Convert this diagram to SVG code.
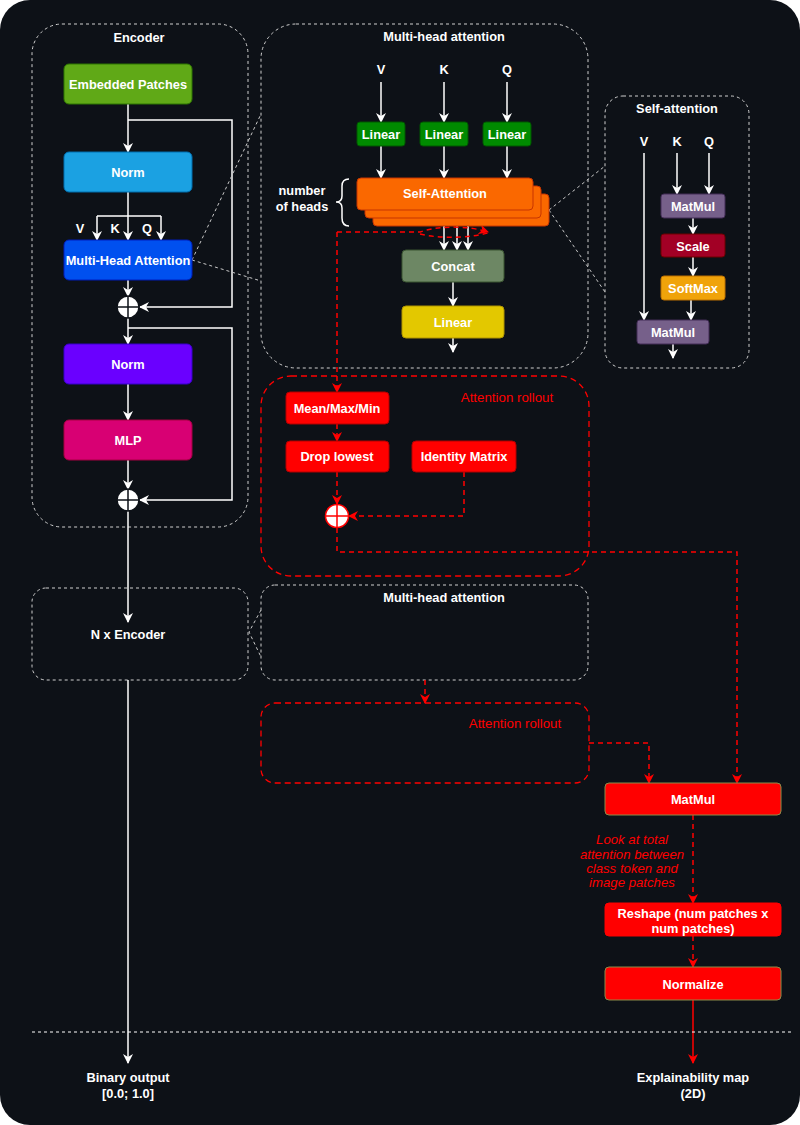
<svg xmlns="http://www.w3.org/2000/svg" width="800" height="1125" viewBox="0 0 800 1125">
<defs>
<marker id="aw" viewBox="0 0 10 10" refX="9" refY="5" markerWidth="10" markerHeight="10" markerUnits="userSpaceOnUse" orient="auto"><path d="M0,0 L10,5 L0,10 L3,5 z" fill="#ffffff"/></marker>
<marker id="ar" viewBox="0 0 10 10" refX="9" refY="5" markerWidth="10" markerHeight="10" markerUnits="userSpaceOnUse" orient="auto"><path d="M0,0 L10,5 L0,10 L3,5 z" fill="#ff0000"/></marker>
</defs>
<style>
text{font-family:"Liberation Sans",Arial,sans-serif;font-size:12.8px;font-weight:bold;fill:#ffffff;text-anchor:middle;dominant-baseline:central}
.rt{fill:#ff0000;font-weight:normal;font-size:13.3px}
.it{fill:#ff0000;font-weight:normal;font-style:italic;font-size:13.2px}
.cont{fill:none;stroke:#d0d0d0;stroke-width:1;stroke-dasharray:3 3}
.rcont{fill:none;stroke:#ff0000;stroke-width:1.3;stroke-dasharray:6 4}
.w{fill:none;stroke:#ffffff;stroke-width:1.5}
.wa{fill:none;stroke:#ffffff;stroke-width:1.5;marker-end:url(#aw)}
.ra{fill:none;stroke:#ff0000;stroke-width:1.5;stroke-dasharray:5 4;marker-end:url(#ar)}
.rs{fill:none;stroke:#ff0000;stroke-width:1.5;stroke-dasharray:5 4}
.gd{fill:none;stroke:#c8c8c8;stroke-width:1;stroke-dasharray:3 3}
.red{fill:#ff0000;stroke:#b20000}
</style>
<rect x="0" y="0" width="800" height="1125" fill="#ffffff"/>
<rect x="0" y="0" width="800" height="1125" rx="30" fill="#0d1117"/>

<g id="containers">
<rect class="cont" x="32" y="24" width="216" height="503" rx="30"/>
<text x="139" y="37">Encoder</text>
<rect class="cont" x="261" y="24" width="327" height="344" rx="35"/>
<text x="444" y="36">Multi-head attention</text>
<rect class="cont" x="605" y="96" width="144" height="272" rx="18"/>
<text x="677" y="108">Self-attention</text>
<rect class="rcont" x="261" y="376" width="328" height="200" rx="30"/>
<text class="rt" x="507" y="397">Attention rollout</text>
<rect class="cont" x="32" y="588" width="216" height="92" rx="14"/>
<text x="128" y="634">N x Encoder</text>
<rect class="cont" x="261" y="585" width="327" height="95" rx="14"/>
<text x="444" y="597">Multi-head attention</text>
<rect class="rcont" x="261" y="703" width="328" height="80" rx="14"/>
<text class="rt" x="515" y="723">Attention rollout</text>
</g>

<g id="connectors">
<path class="wa" d="M128 104 V152"/>
<path class="wa" d="M128 120 H232 V307 H140"/>
<path class="w" d="M128 192 V216 M97 216 H161"/>
<path class="wa" d="M97 216 V240"/>
<path class="wa" d="M128 216 V240"/>
<path class="wa" d="M161 216 V240"/>
<path class="wa" d="M128 280 V296"/>
<path class="wa" d="M128 318 V344"/>
<path class="wa" d="M128 328 H232 V500 H140"/>
<path class="wa" d="M128 384 V420"/>
<path class="wa" d="M128 460 V489"/>
<path class="wa" d="M128 511 V622"/>
<path class="wa" d="M128 680 V1063"/>
<path class="wa" d="M381 82 V122"/>
<path class="wa" d="M444 82 V122"/>
<path class="wa" d="M507 82 V122"/>
<path class="wa" d="M381 146 V178"/>
<path class="wa" d="M444 146 V178"/>
<path class="wa" d="M507 146 V178"/>
<path class="wa" d="M444 209 V250"/>
<path class="wa" d="M457 217 V250"/>
<path class="wa" d="M468 226 V250"/>
<path class="wa" d="M453 282 V306"/>
<path class="wa" d="M453 338 V352"/>
<path class="wa" d="M677 153 V194"/>
<path class="wa" d="M709 153 V194"/>
<path class="wa" d="M644 153 V320"/>
<path class="wa" d="M693 218 V234"/>
<path class="wa" d="M693 257 V276"/>
<path class="wa" d="M691 300 V320"/>
<path class="wa" d="M673 344 V358"/>
<path class="gd" d="M192 260 L261 114 M192 260 L261 281"/>
<path class="gd" d="M549 210 L605 166 M549 210 L605 292"/>
<path class="gd" d="M261 610 L249 632 L261 657"/>
<path class="ra" d="M337 232 H420 C440 225 470 226 488 232"/>
<path class="rs" d="M420 234 C440 239 470 238 488 233"/>
<path class="ra" d="M337 232 V392"/>
<path class="ra" d="M337 424 V441"/>
<path class="ra" d="M337 472 V504"/>
<path class="ra" d="M464 472 V516 H349"/>
<path class="ra" d="M337 528 V552 H737 V783"/>
<path class="ra" d="M425 680 V703"/>
<path class="ra" d="M589 743 H649 V783"/>
<path class="ra" d="M693 815 V903"/>
<path class="ra" d="M693 936 V967"/>
<path fill="none" stroke="#ff0000" stroke-width="1.5" marker-end="url(#ar)" d="M693 1000 V1063"/>
<path fill="none" stroke="#ffffff" stroke-width="1" stroke-dasharray="3 3" d="M32 1032 H793"/>
</g>

<g id="embedded-patches"><rect x="64" y="64" width="128" height="40" rx="5" fill="#60a917" stroke="#2d7600"/><text x="128" y="84">Embedded Patches</text></g>
<g id="norm1"><rect x="64" y="152" width="128" height="40" rx="5" fill="#1ba1e2" stroke="#006eaf"/><text x="128" y="172">Norm</text></g>
<g id="vkq-labels"><text x="80" y="228">V</text><text x="115" y="228">K</text><text x="147" y="228">Q</text></g>
<g id="mha"><rect x="64" y="240" width="128" height="40" rx="5" fill="#0050ef" stroke="#001dbc"/><text x="128" y="260">Multi-Head Attention</text></g>
<g id="add1"><circle cx="128" cy="307" r="11" fill="#ffffff" stroke="#0d1117" stroke-width="1.5"/><path d="M117 307 H139 M128 296 V318" stroke="#0d1117" stroke-width="1.5"/></g>
<g id="norm2"><rect x="64" y="344" width="128" height="40" rx="5" fill="#6a00ff" stroke="#3700cc"/><text x="128" y="364">Norm</text></g>
<g id="mlp"><rect x="64" y="420" width="128" height="40" rx="5" fill="#d80073" stroke="#a50040"/><text x="128" y="440">MLP</text></g>
<g id="add2"><circle cx="128" cy="500" r="11" fill="#ffffff" stroke="#0d1117" stroke-width="1.5"/><path d="M117 500 H139 M128 489 V511" stroke="#0d1117" stroke-width="1.5"/></g>

<g id="mh-vkq"><text x="381" y="69">V</text><text x="444" y="69">K</text><text x="507" y="69">Q</text></g>
<g id="linear-v"><rect x="357" y="122" width="48" height="24" rx="3" fill="#008a00" stroke="#005700"/><text x="381" y="134">Linear</text></g>
<g id="linear-k"><rect x="420" y="122" width="48" height="24" rx="3" fill="#008a00" stroke="#005700"/><text x="444" y="134">Linear</text></g>
<g id="linear-q"><rect x="483" y="122" width="48" height="24" rx="3" fill="#008a00" stroke="#005700"/><text x="507" y="134">Linear</text></g>
<g id="self-attention-stack">
<rect x="373" y="194" width="176" height="32" rx="4" fill="#fa6800" stroke="#c73500"/>
<rect x="365" y="186" width="176" height="32" rx="4" fill="#fa6800" stroke="#c73500"/>
<rect x="357" y="178" width="176" height="32" rx="4" fill="#fa6800" stroke="#c73500"/>
<text x="445" y="193">Self-Attention</text>
</g>
<g id="heads-brace"><path d="M349 179 Q342 179 342 186 V196 Q342 202 336 202 Q342 202 342 208 V218 Q342 226 349 226" fill="none" stroke="#ffffff" stroke-width="1.5"/><text x="302" y="190">number</text><text x="302" y="206">of heads</text></g>
<g id="concat"><rect x="402" y="250" width="102" height="32" rx="4" fill="#6d8764" stroke="#3a5431"/><text x="453" y="266">Concat</text></g>
<g id="linear-out"><rect x="402" y="306" width="102" height="32" rx="4" fill="#e3c800" stroke="#b09500"/><text x="453" y="322">Linear</text></g>

<g id="sa-vkq"><text x="644" y="141">V</text><text x="677" y="141">K</text><text x="709" y="141">Q</text></g>
<g id="sa-matmul1"><rect x="661" y="194" width="64" height="24" rx="3" fill="#76608a" stroke="#432d57"/><text x="693" y="206">MatMul</text></g>
<g id="sa-scale"><rect x="661" y="234" width="64" height="23" rx="3" fill="#a20025" stroke="#6f0000"/><text x="693" y="246">Scale</text></g>
<g id="sa-softmax"><rect x="661" y="276" width="64" height="24" rx="3" fill="#f0a30a" stroke="#bd7000"/><text x="693" y="288">SoftMax</text></g>
<g id="sa-matmul2"><rect x="637" y="320" width="72" height="24" rx="3" fill="#76608a" stroke="#432d57"/><text x="673" y="332">MatMul</text></g>

<g id="mean-max-min"><rect class="red" x="286" y="392" width="103" height="32" rx="4"/><text x="337" y="408">Mean/Max/Min</text></g>
<g id="drop-lowest"><rect class="red" x="286" y="441" width="103" height="31" rx="4"/><text x="337" y="456">Drop lowest</text></g>
<g id="identity-matrix"><rect class="red" x="412" y="441" width="104" height="31" rx="4"/><text x="464" y="456">Identity Matrix</text></g>
<g id="add-red"><circle cx="337" cy="516" r="11.5" fill="#ffffff" stroke="#ff0000" stroke-width="1.5"/><path d="M325.5 516 H348.5 M337 504.5 V527.5" stroke="#ff0000" stroke-width="1.5"/></g>

<g id="matmul-final"><rect x="605" y="783" width="176" height="32" rx="4" fill="#ff0000" stroke="#8c8c4a"/><text x="693" y="799">MatMul</text></g>
<g id="note"><text class="it" x="632" y="839">Look at total</text><text class="it" x="632" y="854">attention between</text><text class="it" x="632" y="868">class token and</text><text class="it" x="632" y="882">image patches</text></g>
<g id="reshape"><rect x="605" y="903" width="176" height="33" rx="4" fill="#ff0000" stroke="#ff0000"/><text x="693" y="913">Reshape (num patches x</text><text x="693" y="928">num patches)</text></g>
<g id="normalize"><rect x="605" y="967" width="176" height="33" rx="4" fill="#ff0000" stroke="#8c8c4a"/><text x="693" y="984">Normalize</text></g>

<g id="binary-output"><text x="128" y="1077">Binary output</text><text x="128" y="1093">[0.0; 1.0]</text></g>
<g id="explainability-map"><text x="693" y="1077">Explainability map</text><text x="693" y="1093">(2D)</text></g>
</svg>
